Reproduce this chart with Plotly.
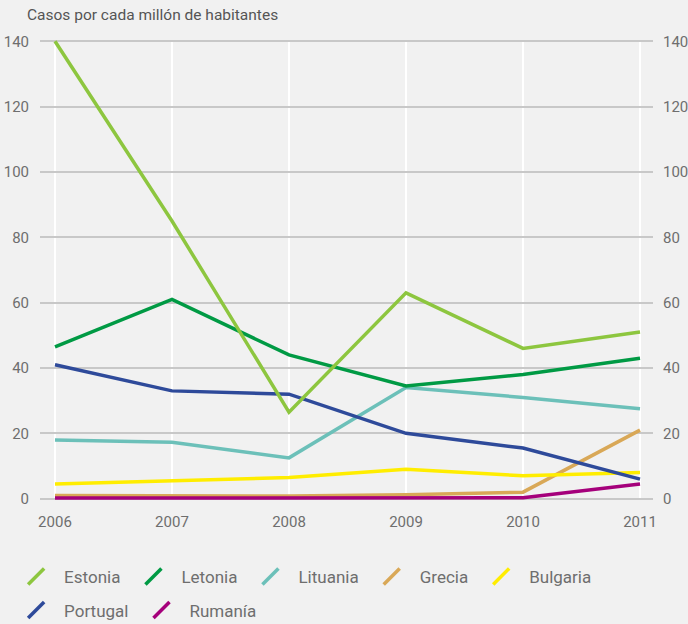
import plotly.graph_objects as go

years = [2006, 2007, 2008, 2009, 2010, 2011]

estonia = [140, 85, 26.5, 63, 46, 51]
letonia = [46.5, 61, 44, 34.5, 38, 43]
lituania = [18, 17.3, 12.5, 34, 31, 27.5]
grecia = [1, 1, 0.8, 1.2, 2, 21]
bulgaria = [4.5, 5.5, 6.5, 9, 7, 8]
portugal = [41, 33, 32, 20, 15.5, 6]
rumania = [0.2, 0.2, 0.2, 0.2, 0.3, 4.5]

series = [
    ("Estonia", estonia, "#8dc63f", "legend"),
    ("Letonia", letonia, "#009a44", "legend"),
    ("Lituania", lituania, "#6cc0b9", "legend"),
    ("Grecia", grecia, "#d9a857", "legend"),
    ("Bulgaria", bulgaria, "#ffed00", "legend"),
    ("Portugal", portugal, "#2e4a9a", "legend2"),
    ("Rumanía", rumania, "#a5007b", "legend2"),
]

# draw order: back to front roughly like the original
draw_order = ["Grecia", "Rumanía", "Bulgaria", "Lituania", "Portugal", "Letonia", "Estonia"]

fig = go.Figure()

lookup = {s[0]: s for s in series}
for name in draw_order:
    _, vals, color, _ = lookup[name]
    fig.add_trace(go.Scatter(
        x=years, y=vals, mode="lines", name=name,
        line=dict(color=color, width=3.5),
        showlegend=False,
    ))

# legend entries with slanted line symbols
for name, vals, color, leg in series:
    fig.add_trace(go.Scatter(
        x=[None], y=[None], mode="markers", name=name,
        marker=dict(symbol="line-ne", size=16, color=color,
                    line=dict(color=color, width=3.5)),
        yaxis="y2", legend=leg,
    ))

grey = "#6e6e6e"
fig.update_layout(
    width=688, height=624,
    paper_bgcolor="#f1f1f1", plot_bgcolor="#f1f1f1",
    margin=dict(l=40, r=35, t=40, b=124, autoexpand=False),
    font=dict(family="Roboto", color=grey, size=15),
    title=dict(text="Casos por cada millón de habitantes", x=27 / 688, xanchor="left",
               y=1 - 15 / 624, yanchor="middle", font=dict(size=15.5, color="#555555")),
    xaxis=dict(range=[2005.872, 2011.111], tickvals=years, showgrid=True,
               gridcolor="white", gridwidth=2, zeroline=False, showline=False,
               ticks="outside", ticklen=8, tickcolor="rgba(0,0,0,0)", automargin=False),
    yaxis=dict(range=[-0.4, 140.4], tickvals=[0, 20, 40, 60, 80, 100, 120, 140],
               showgrid=True, gridcolor="#c8c8c8", gridwidth=2, zeroline=False,
               ticks="outside", ticklen=7, tickcolor="rgba(0,0,0,0)", automargin=False),
    yaxis2=dict(range=[-0.4, 140.4], tickvals=[0, 20, 40, 60, 80, 100, 120, 140],
                overlaying="y", side="right", showgrid=False, zeroline=False,
                ticks="outside", ticklen=6, tickcolor="rgba(0,0,0,0)", automargin=False),
    legend=dict(orientation="h", x=-0.052, xanchor="left", y=-0.128, yanchor="top",
                itemwidth=46, font=dict(size=17), bgcolor="rgba(0,0,0,0)"),
    legend2=dict(orientation="h", x=-0.052, xanchor="left", y=-0.201, yanchor="top",
                 itemwidth=46, font=dict(size=17), bgcolor="rgba(0,0,0,0)"),
    showlegend=True,
)

fig.write_html("out.html", config={"displayModeBar": False},
               post_script="document.body.style.margin='0';"
               "document.body.style.background='#f1f1f1';")
